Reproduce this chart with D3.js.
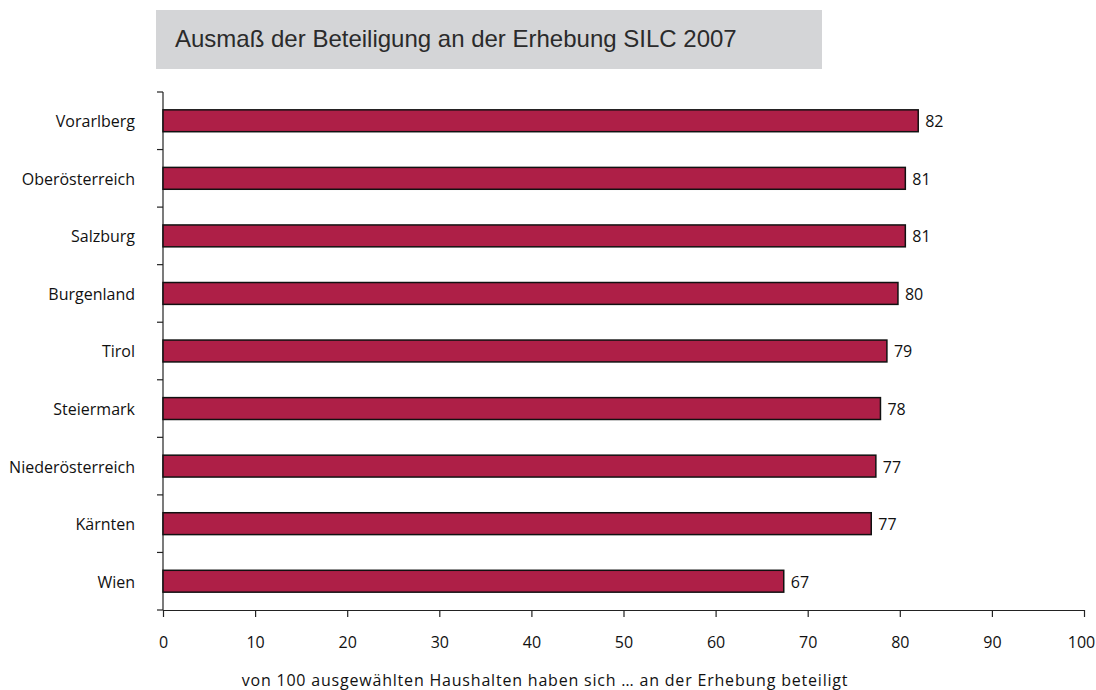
<!DOCTYPE html>
<html><head><meta charset="utf-8">
<script src="https://cdn.jsdelivr.net/npm/d3@7"></script>
<style>html,body{margin:0;padding:0;background:#fff;}</style>
</head><body>
<svg id="chart" width="1096" height="690"></svg>
<script>
const categories = ["Vorarlberg","Oberösterreich","Salzburg","Burgenland","Tirol","Steiermark","Niederösterreich","Kärnten","Wien"];
const values = [82.0, 80.6, 80.6, 79.8, 78.6, 77.9, 77.4, 76.9, 67.4];
const labels = ["82","81","81","80","79","78","77","77","67"];
const xTicks = [0,10,20,30,40,50,60,70,80,90,100];
const title = "Ausmaß der Beteiligung an der Erhebung SILC 2007";
const xTitle = "von 100 ausgewählten Haushalten haben sich … an der Erhebung beteiligt";

(function(){
const svg = d3.select("#chart");
const font = "'Open Sans', sans-serif";
const fs = 16;
const mLeft = 163, mRight = 1084, mTop = 92, mBottom = 610;

// title box
svg.append("rect").attr("x",156).attr("y",10).attr("width",666).attr("height",59).attr("fill","#d4d5d7");
svg.append("text").attr("x",175).attr("y",47).attr("font-family","'Liberation Sans', Arial, sans-serif")
  .attr("font-size",24).attr("fill","#2b2b2b").text(title);

const x = d3.scaleLinear().domain([0,100]).range([mLeft,mRight]);
const y = d3.scaleBand().domain(categories).range([mTop,mBottom]).paddingInner(0.62).paddingOuter(0.31);
const yb = d3.scaleBand().domain(categories).range([mTop,mBottom]);

// y axis line + ticks at band boundaries
const g = svg.append("g");
g.append("line").attr("x1",mLeft).attr("x2",mLeft).attr("y1",mTop).attr("y2",mBottom).attr("stroke","#222").attr("stroke-width",1.2);
const yTickPos = categories.map(c=>yb(c)).concat([mBottom]);
g.selectAll(".yt").data(yTickPos).join("line").attr("x1",mLeft-6).attr("x2",mLeft).attr("y1",d=>d).attr("y2",d=>d).attr("stroke","#222").attr("stroke-width",1.2);

// x axis
const xa = svg.append("g").attr("transform",`translate(0,${mBottom})`)
  .call(d3.axisBottom(x).tickValues(xTicks).tickSize(7).tickPadding(20).tickSizeOuter(0));
xa.select(".domain").attr("stroke","#222").attr("stroke-width",1.2);
xa.selectAll(".tick line").attr("stroke","#222").attr("stroke-width",1.2);
xa.selectAll(".tick text").attr("font-family",font).attr("font-size",fs).attr("fill","#111")
  .attr("dx",d=>d===100?-3:0);

// bars
svg.selectAll(".bar").data(categories).join("rect")
  .attr("x",x(0)).attr("y",c=>y(c)).attr("width",(c,i)=>x(values[i])-x(0)).attr("height",y.bandwidth())
  .attr("fill","#ae1f47").attr("stroke","#111").attr("stroke-width",1.5);

// category labels
svg.selectAll(".cl").data(categories).join("text")
  .attr("x",135).attr("y",c=>yb(c)+yb.bandwidth()/2).attr("dy","0.4em").attr("text-anchor","end")
  .attr("font-family",font).attr("font-size",fs).attr("fill","#111").text(c=>c);

// value labels
svg.selectAll(".vl").data(categories).join("text")
  .attr("x",(c,i)=>x(values[i])+7).attr("y",c=>yb(c)+yb.bandwidth()/2).attr("dy","0.4em")
  .attr("font-family",font).attr("font-size",fs).attr("fill","#111").text((c,i)=>labels[i]);

// x title
svg.append("text").attr("x",545).attr("y",686).attr("text-anchor","middle")
  .attr("font-family",font).attr("font-size",fs).attr("fill","#111").attr("letter-spacing",0.8).text(xTitle);
})();
</script>
</body></html>
